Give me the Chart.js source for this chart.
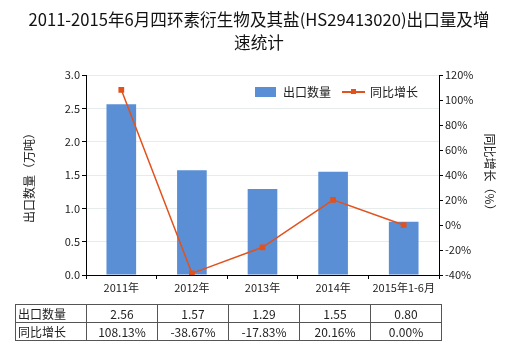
<!DOCTYPE html>
<html>
<head>
<meta charset="utf-8">
<script src="https://cdn.jsdelivr.net/npm/chart.js@4.4.1/dist/chart.umd.min.js"></script>
<style>
  html, body { margin: 0; padding: 0; background: #fff; }
  #wrap { position: relative; width: 520px; height: 350px; font-family: "Noto Sans CJK SC", "Noto Sans", sans-serif; }
  #c { position: absolute; left: 0; top: 0; }
  #tbl { position: absolute; left: 15px; top: 304px; border-collapse: collapse; font-size: 12px; color: #222; }
  #tbl td { border: 1px solid #555; height: 17px; padding: 0; text-align: center; width: 70px; line-height: 17px; }
  #tbl td.h { text-align: left; padding-left: 2px; width: 68px; }
</style>
</head>
<body>
<div id="wrap">
  <canvas id="c" width="520" height="350"></canvas>
  <table id="tbl"></table>
</div>
<script>
const categories = ['2011年', '2012年', '2013年', '2014年', '2015年1-6月'];
const exportQty = [2.56, 1.57, 1.29, 1.55, 0.80];
const growthPct = [108.13, -38.67, -17.83, 20.16, 0.00];
const qtyLabels = ['2.56', '1.57', '1.29', '1.55', '0.80'];
const growthLabels = ['108.13%', '-38.67%', '-17.83%', '20.16%', '0.00%'];

const titleLines = ['2011-2015年6月四环素衍生物及其盐(HS29413020)出口量及增', '速统计'];
const barName = '出口数量';
const lineName = '同比增长';
const barColor = '#5a8fd6';
const lineColor = '#e2521d';
const FONT = '"Noto Sans CJK SC", "Noto Sans", sans-serif';

// data table under the chart
const tbl = document.getElementById('tbl');
tbl.innerHTML = [
    [barName, qtyLabels],
    [lineName, growthLabels]
].map(([name, vals]) => `<tr><td class="h">${name}</td>${vals.map((v) => `<td>${v}</td>`).join('')}</tr>`).join('');

const extras = {
    id: 'extras',
    afterDraw(chart) {
        const ctx = chart.ctx;
        const area = chart.chartArea;
        ctx.save();
        ctx.fillStyle = '#111';
        ctx.font = `16.6px ${FONT}`;
        ctx.textAlign = 'center';
        ctx.textBaseline = 'middle';
        ctx.fillText(titleLines[0], 259, 20);
        ctx.fillText(titleLines[1], 259, 43);

        // axis titles
        ctx.font = `12px ${FONT}`;
        ctx.fillStyle = '#222';
        ctx.save();
        ctx.translate(29, (area.top + area.bottom) / 2);
        ctx.rotate(-Math.PI / 2);
        ctx.fillText('出口数量（万吨）', 0, 0);
        ctx.restore();
        ctx.save();
        ctx.translate(490, (area.top + area.bottom) / 2);
        ctx.rotate(Math.PI / 2);
        ctx.fillText('同比增长（%）', 0, 0);
        ctx.restore();

        // legend
        ctx.textAlign = 'left';
        ctx.fillStyle = barColor;
        ctx.fillRect(255, 87, 21, 10);
        ctx.fillStyle = '#222';
        ctx.fillText(barName, 283, 92);
        ctx.strokeStyle = lineColor;
        ctx.lineWidth = 2;
        ctx.beginPath();
        ctx.moveTo(342, 92);
        ctx.lineTo(365, 92);
        ctx.stroke();
        ctx.fillStyle = lineColor;
        ctx.fillRect(351, 89, 5, 5);
        ctx.fillStyle = '#222';
        ctx.fillText(lineName, 370, 92);
        ctx.restore();
    }
};

new Chart(document.getElementById('c'), {
    data: {
        labels: categories,
        datasets: [
            {
                type: 'line',
                label: lineName,
                data: growthPct,
                yAxisID: 'y2',
                borderColor: lineColor,
                backgroundColor: lineColor,
                borderWidth: 1.5,
                pointStyle: 'rect',
                pointRadius: 3,
                tension: 0,
                order: 0
            },
            {
                type: 'bar',
                label: barName,
                data: exportQty,
                yAxisID: 'y',
                backgroundColor: barColor,
                barPercentage: 0.42,
                categoryPercentage: 1,
                order: 1
            }
        ]
    },
    options: {
        responsive: false,
        animation: false,
        layout: { padding: { left: 20, right: 20, top: 75, bottom: 50 } },
        plugins: { legend: { display: false }, title: { display: false }, tooltip: { enabled: false } },
        scales: {
            x: {
                offset: true,
                grid: { display: true, drawOnChartArea: false, drawTicks: true, tickLength: 4, color: '#000' },
                border: { color: '#000' },
                ticks: { color: '#222', font: { size: 11, family: FONT }, maxRotation: 0, padding: 2 },
                afterFit(s) { s.height = 25; }
            },
            y: {
                position: 'left',
                min: 0,
                max: 3,
                grid: { color: '#e6ebeb', tickLength: 4, tickColor: '#000' },
                border: { color: '#000' },
                ticks: {
                    stepSize: 0.5,
                    color: '#222',
                    font: { size: 11, family: FONT },
                    padding: 2,
                    callback: (v) => v.toFixed(1)
                },
                afterFit(s) { s.width = 66; }
            },
            y2: {
                position: 'right',
                min: -40,
                max: 120,
                grid: { drawOnChartArea: false, tickLength: 4, color: '#000' },
                border: { color: '#000' },
                ticks: {
                    stepSize: 20,
                    color: '#222',
                    font: { size: 11, family: FONT },
                    padding: 2,
                    callback: (v) => v + '%'
                },
                afterFit(s) { s.width = 61; }
            }
        }
    },
    plugins: [extras]
});
</script>
</body>
</html>
